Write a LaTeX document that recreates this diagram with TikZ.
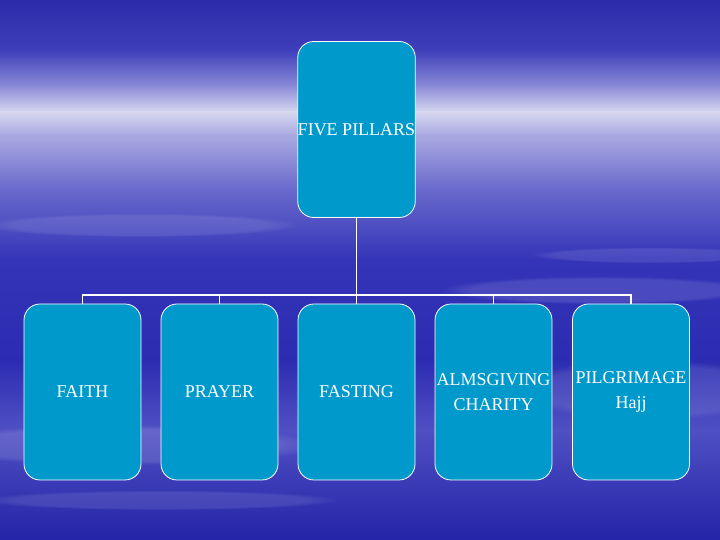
\documentclass[tikz,border=0pt]{standalone}
\usepackage{fontspec}
\setmainfont{Liberation Serif}
\usepackage{tikz}
\usetikzlibrary{positioning}
\usetikzlibrary{fadings}
\tikzset{pillar/.style = {draw = white, line width = 0.8pt, fill = pillarblue, rounded corners = 16pt,
    minimum width = 117pt, minimum height = 176pt, inner sep = 0, text = white,
    align = center, font = \fontsize{18}{25}\selectfont}}
\tikzset{link/.style = {draw = white, line width = 1.6pt}}
\tikzset{cloud/.style = {fill = white, path fading = circle with fuzzy edge 20 percent}}
\definecolor{pillarblue}{RGB}{0, 153, 204}
\definecolor{skyA}{RGB}{44, 44, 170}
\definecolor{skyB}{RGB}{62, 62, 186}
\definecolor{skyC}{RGB}{135, 135, 215}
\definecolor{skyD}{RGB}{215, 215, 240}
\definecolor{skyE}{RGB}{170, 170, 225}
\definecolor{skyF}{RGB}{105, 105, 205}
\definecolor{skyG}{RGB}{52, 52, 184}
\definecolor{skyH}{RGB}{44, 44, 178}
\definecolor{skyI}{RGB}{80, 80, 196}
\definecolor{skyJ}{RGB}{36, 36, 168}

\begin{document}
\begin{tikzpicture}[x = 1pt, y = 1pt]
      % sky
      \useasboundingbox (0, 0) rectangle (720, 540);
      \fill [top color = skyA, bottom color = skyB] (0, 540) rectangle (720, 490);
      \fill [top color = skyB, bottom color = skyC] (0, 490.5) rectangle (720, 455);
      \fill [top color = skyC, bottom color = skyD] (0, 455.5) rectangle (720, 428);
      \fill [top color = skyD, bottom color = skyE] (0, 428.5) rectangle (720, 405);
      \fill [top color = skyE, bottom color = skyF] (0, 405.5) rectangle (720, 350);
      \fill [top color = skyF, bottom color = skyG] (0, 350.5) rectangle (720, 280);
      \fill [top color = skyG, bottom color = skyH] (0, 280.5) rectangle (720, 180);
      \fill [top color = skyH, bottom color = skyI] (0, 180.5) rectangle (720, 110);
      \fill [top color = skyI, bottom color = skyJ] (0, 110.5) rectangle (720, 0);
      \fill [cloud, opacity = 0.12] (600, 250) ellipse (160 and 14);
      \fill [cloud, opacity = 0.1] (650, 285) ellipse (120 and 8);
      \fill [cloud, opacity = 0.12] (120, 95) ellipse (200 and 20);
      \fill [cloud, opacity = 0.1] (160, 40) ellipse (180 and 10);
      \fill [cloud, opacity = 0.1] (650, 150) ellipse (140 and 30);
      \fill [cloud, opacity = 0.1] (140, 315) ellipse (160 and 12);
      % chart
      \node [pillar] (top) at (356.5, 410.5) {FIVE PILLARS};
      \node [pillar] (faith) at (82.5, 148) {FAITH};
      \node [pillar] (prayer) at (219.5, 148) {PRAYER};
      \node [pillar] (fasting) at (356.5, 148) {FASTING};
      \node [pillar] (alms) at (493.5, 148) {ALMSGIVING\\CHARITY};
      \node [pillar] (hajj) at (631, 148) {PILGRIMAGE\\Hajj};
      \coordinate (bar) at (356.5, 245);
      \draw [link] (top.south) -- (bar);
      \foreach \n in {faith, prayer, fasting, alms, hajj} {
        \draw [link] (bar) -| (\n.north);
      }
    \end{tikzpicture}
\end{document}
